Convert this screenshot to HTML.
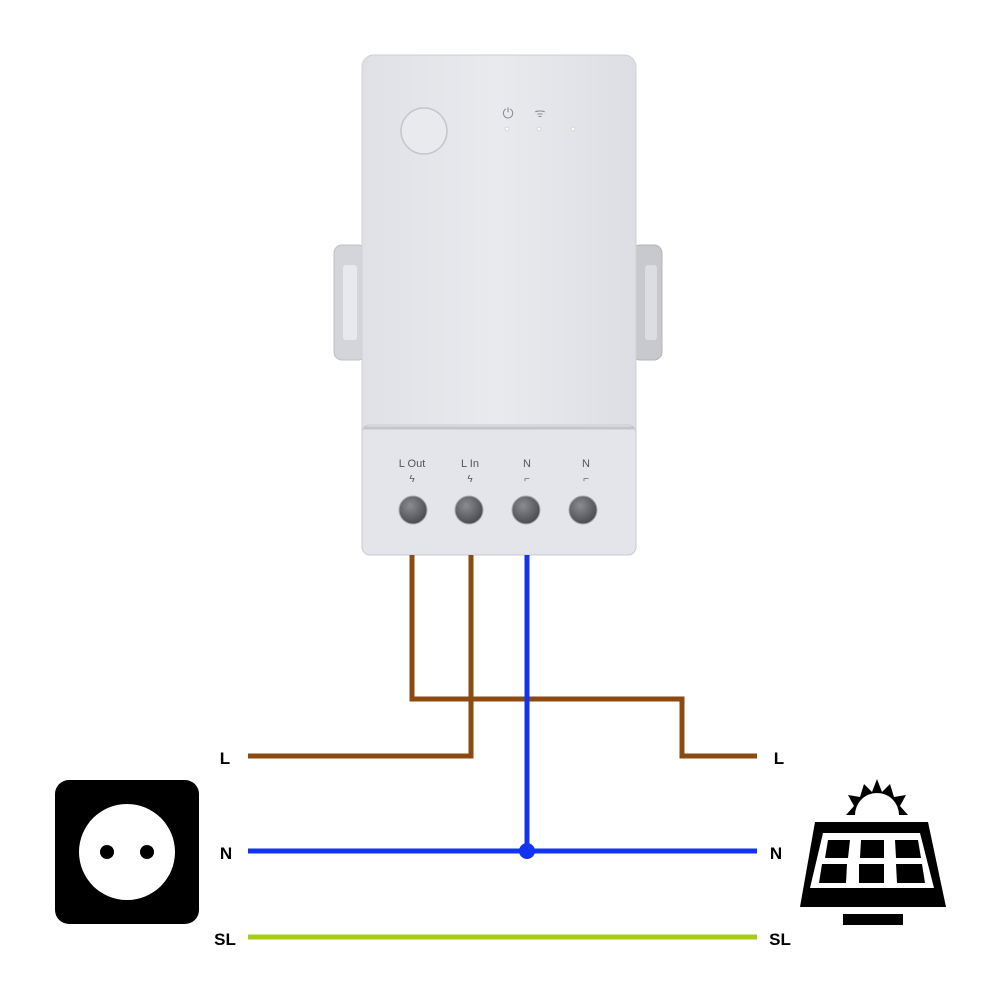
<!DOCTYPE html>
<html><head><meta charset="utf-8"><style>
body{margin:0;background:#fff;width:1000px;height:1000px;overflow:hidden}
svg{display:block}
text{font-family:"Liberation Sans",sans-serif}
</style></head><body>
<svg width="1000" height="1000" viewBox="0 0 1000 1000">
<defs>
<linearGradient id="bd" x1="0" y1="0" x2="1" y2="0">
<stop offset="0" stop-color="#e0e1e6"/><stop offset="0.5" stop-color="#e9eaee"/><stop offset="1" stop-color="#dddee3"/>
</linearGradient>
<radialGradient id="sc" cx="0.4" cy="0.35" r="0.7">
<stop offset="0" stop-color="#8a8c92"/><stop offset="1" stop-color="#45474d"/>
</radialGradient>
</defs>
<rect x="334" y="245" width="32" height="115" rx="8" fill="#d4d5da" stroke="#bfc0c6"/>
<rect x="343" y="265" width="14" height="75" rx="3" fill="#e8e9ed"/>
<rect x="632" y="245" width="30" height="115" rx="8" fill="#c8c9cf" stroke="#b4b5bb"/>
<rect x="645" y="265" width="12" height="75" rx="3" fill="#dcdde2"/>
<rect x="362" y="55" width="274" height="500" rx="12" fill="url(#bd)" stroke="#cfd0d6"/>
<rect x="362" y="425" width="274" height="130" rx="8" fill="#e4e5ea" stroke="#c9cad0"/>
<line x1="364" y1="428" x2="634" y2="428" stroke="#c4c5cb" stroke-width="3"/>
<circle cx="424" cy="131" r="23" fill="#e9eaee" stroke="#c5c6cc" stroke-width="1.5"/>
<text x="508" y="118" font-size="14" fill="#8a8c92" text-anchor="middle">⏻</text>
<text x="540" y="117" font-size="12" fill="#8a8c92" text-anchor="middle">ᯤ</text>
<circle cx="507" cy="129" r="2" fill="#fff" stroke="#bbb" stroke-width=".5"/>
<circle cx="539" cy="129" r="2" fill="#fff" stroke="#bbb" stroke-width=".5"/>
<circle cx="573" cy="129" r="2" fill="#fff" stroke="#bbb" stroke-width=".5"/>
<g font-size="11" fill="#555" text-anchor="middle">
<text x="412" y="467">L Out</text><text x="470" y="467">L In</text>
<text x="527" y="467">N</text><text x="586" y="467">N</text>
<text x="412" y="482" font-size="10">ϟ</text><text x="470" y="482" font-size="10">ϟ</text>
<text x="527" y="482" font-size="10">⌐</text><text x="586" y="482" font-size="10">⌐</text>
</g>
<g stroke="#aaa" stroke-width="1">
<circle cx="413" cy="510" r="14" fill="url(#sc)"/>
<circle cx="469" cy="510" r="14" fill="url(#sc)"/>
<circle cx="526" cy="510" r="14" fill="url(#sc)"/>
<circle cx="583" cy="510" r="14" fill="url(#sc)"/>
</g>
<g fill="none" stroke-width="5">
<polyline points="412,555 412,699 682,699 682,756 757,756" stroke="#8b4a0f"/>
<polyline points="471,555 471,756 248,756" stroke="#8b4a0f"/>
<polyline points="527,555 527,851" stroke="#1233ef"/>
<line x1="248" y1="851" x2="757" y2="851" stroke="#1233ef"/>
<line x1="248" y1="937" x2="757" y2="937" stroke="#a6cc14"/>
</g>
<circle cx="527" cy="851" r="8" fill="#1233ef"/>
<g font-size="17" font-weight="bold" fill="#000" text-anchor="middle">
<text x="225" y="764">L</text><text x="226" y="859">N</text><text x="225" y="945">SL</text>
<text x="779" y="764">L</text><text x="776" y="859">N</text><text x="780" y="945">SL</text>
</g>
<rect x="55" y="780" width="144" height="144" rx="14" fill="#000"/>
<circle cx="127" cy="852" r="48" fill="#fff"/>
<circle cx="107" cy="852" r="7" fill="#000"/>
<circle cx="147" cy="852" r="7" fill="#000"/>
<path d="M855,815 A22,22 0 0 1 899,815 L908,815 L900,806 L906,795 L894,797 L890,784 L882,792 L877,779 L872,792 L864,784 L860,797 L848,795 L854,806 L846,815 Z" fill="#000"/>
<path d="M861,815 A16,16 0 0 1 893,815 Z" fill="#fff"/>
<path d="M815,822 L928,822 L946,907 L800,907 Z" fill="#000"/>
<path d="M823,833 L920,833 L934,888 L810,888 Z" fill="#fff"/>
<g fill="#000">
<polygon points="828,840 850,840 848,858 825,858"/>
<polygon points="861,840 884,840 884,858 860,858"/>
<polygon points="895,840 918,840 921,858 896,858"/>
<polygon points="822,864 847,864 846,883 819,883"/>
<polygon points="859,864 884,864 884,883 859,883"/>
<polygon points="896,864 922,864 925,883 897,883"/>
</g>
<rect x="843" y="914" width="60" height="11" fill="#000"/>
</svg>
</body></html>
